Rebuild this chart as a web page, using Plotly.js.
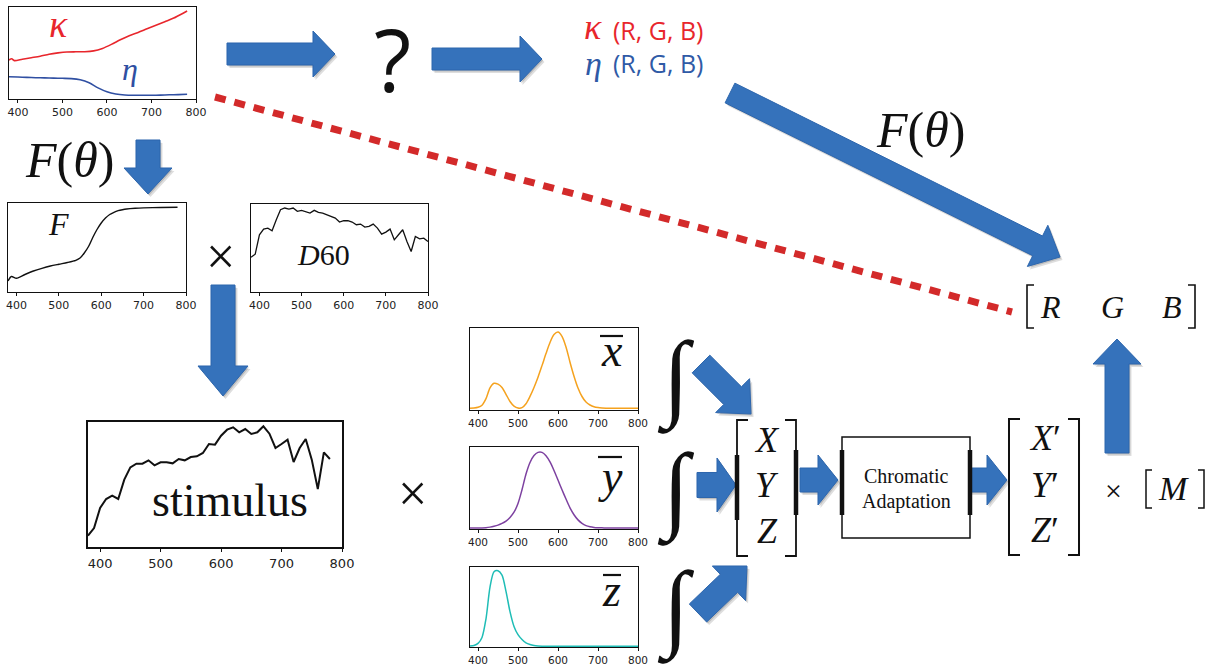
<!DOCTYPE html>
<html><head><meta charset="utf-8">
<script src="https://cdn.plot.ly/plotly-3.0.1.min.js"></script>
<style>body{margin:0;background:#fff}#chart{width:1215px;height:671px}</style>
</head><body><div id="chart"></div>
<script>
// ---------------- data ----------------
const tickWl = [400, 500, 600, 700, 800];

const kappaWl = [380,386,392,410,430,450,470,490,510,530,550,570,590,610,630,650,670,690,710,730,750,770,780];
const kappa   = [39,40.3,38.4,39.8,41.3,42.8,44.8,46.1,47,47.2,47.3,48.1,50.6,54.6,59.2,63.3,66.6,70.2,73.7,77.3,80.9,85.5,88];

const etaWl = [380,400,420,440,460,480,500,520,540,560,580,600,620,640,660,680,700,720,740,760,780];
const eta   = [22.3,22,21.6,21.3,21.1,20.9,20.7,20.4,19.2,16.2,11.1,7.2,5,4,3.7,3.7,3.7,3.9,4.2,4.4,4.7];

const fresWl = [380,388,400,420,440,460,480,500,520,540,550,560,570,580,590,600,610,620,630,640,650,660,680,700,740,780];
const fresnel = [11,15.5,13.7,17.5,21,23.7,26,27.8,29.5,31.7,34,39,45.5,54.5,62.5,69,74,77.5,79.7,81.3,82.3,83,83.7,84.1,84.5,84.7];

const d60Wl = [380,390,400,410,420,430,440,450,460,470,480,490,500,510,520,530,540,550,560,570,580,590,600,610,620,630,640,650,660,670,680,690,700,710,720,730,740,750,760,770,780,790,800];
const d60 = [104,113,171,188,191,183,216,246,251,248,251,241,244,241,236,244,238,236,231,224,221,209,213,213,209,201,203,194,196,203,191,173,179,188,156,171,186,151,121,166,159,161,151];

const stimWl = [380,390,400,410,420,430,440,450,460,470,480,490,500,510,520,530,540,550,560,570,580,590,600,610,620,630,640,650,660,670,680,690,700,710,720,730,740,750,760,770,780];
const stimulus = [34,57,117,144,154,144,202,239,250,250,260,245,254,254,251,264,260,270,272,282,309,307,334,352,359,344,354,339,344,362,340,297,309,322,255,297,324,262,174,284,264];

const cmfWl = [380,390,400,410,420,430,440,450,460,470,480,490,500,510,520,530,540,550,560,570,580,590,600,610,620,630,640,650,660,670,680,690,700,710,720,730,740,750,760,770,780,790,800];
const xBar = [0.0014,0.0042,0.0143,0.0435,0.1344,0.2839,0.3483,0.3362,0.2908,0.1954,0.0956,0.0320,0.0049,0.0093,0.0633,0.1655,0.2904,0.4334,0.5945,0.7621,0.9163,1.0263,1.0622,1.0026,0.8545,0.6424,0.4479,0.2835,0.1649,0.0874,0.0468,0.0227,0.0114,0.0058,0.0029,0.0014,0.0007,0.0003,0.0002,0.0001,0,0,0];
const yBar = [0,0.0001,0.0004,0.0012,0.004,0.0116,0.023,0.038,0.06,0.091,0.139,0.208,0.323,0.503,0.71,0.862,0.954,0.995,0.995,0.952,0.87,0.757,0.631,0.503,0.381,0.265,0.175,0.107,0.061,0.032,0.017,0.0082,0.0041,0.0021,0.001,0.0005,0.0002,0.0001,0.0001,0,0,0,0];
const zBar = [0.0065,0.0201,0.0679,0.2074,0.6456,1.3856,1.7471,1.7721,1.6692,1.2876,0.8130,0.4652,0.2720,0.1582,0.0783,0.0422,0.0203,0.0088,0.0039,0.0021,0.0017,0.0011,0.0008,0.0003,0.0002,0,0,0,0,0,0,0,0,0,0,0,0,0,0,0,0,0,0];

// ---------------- helpers ----------------
const W = 1215, H = 671;
const fx = v => v / W, fy = v => 1 - v / H;
const SERIF = 'Liberation Serif';
const SANS = 'Open Sans';
const TICKF = 'DejaVu Sans';
const INTF = 'DejaVu Sans ExtraLight, Liberation Serif';

const layout = {
  width: W, height: H, margin: {l: 0, r: 0, t: 0, b: 0},
  paper_bgcolor: '#fff', plot_bgcolor: '#fff', showlegend: false,
  shapes: [], annotations: []
};
const traces = [];

function panel(n, x0, x1, y0, y1, yr, tickSize, lw) {
  const sfx = n === 1 ? '' : String(n);
  layout['xaxis' + sfx] = {
    domain: [fx(x0), fx(x1)], range: [380, 800], anchor: 'y' + sfx,
    showgrid: false, zeroline: false, showline: true, mirror: true,
    linecolor: '#111', linewidth: lw, ticks: 'outside', ticklen: 3, tickwidth: 1, tickcolor: '#111',
    tickvals: tickWl, ticktext: tickWl.map(String),
    tickfont: {family: TICKF, size: tickSize, color: '#222'}, fixedrange: true
  };
  layout['yaxis' + sfx] = {
    domain: [fy(y1), fy(y0)], range: yr, anchor: 'x' + sfx,
    showgrid: false, zeroline: false, showline: true, mirror: true,
    linecolor: '#111', linewidth: lw, ticks: '', showticklabels: false, fixedrange: true
  };
  return sfx;
}
function line(sfx, x, y, color, width, shape) {
  traces.push({x: x, y: y, xaxis: 'x' + sfx, yaxis: 'y' + sfx, type: 'scatter', mode: 'lines',
    line: {color: color, width: width, shape: shape || 'spline', smoothing: 0.8}, hoverinfo: 'skip'});
}
function ann(text, x, y, size, color, family, extra) {
  layout.annotations.push(Object.assign({
    text: text, x: fx(x), y: fy(y), xref: 'paper', yref: 'paper', showarrow: false,
    xanchor: 'center', yanchor: 'middle',
    font: {size: size, color: color || '#111', family: family || SERIF}
  }, extra || {}));
}
function pathStr(pts) {
  return 'M' + pts.map(q => fx(q[0]).toFixed(5) + ',' + fy(q[1]).toFixed(5)).join('L');
}
function arrow(t, p, bw, hl, hw) {
  const dx = p[0] - t[0], dy = p[1] - t[1], L = Math.hypot(dx, dy);
  const ux = dx / L, uy = dy / L, nx = -uy, ny = ux;
  const bx = p[0] - ux * hl, by = p[1] - uy * hl;
  const pts = [[t[0] + nx * bw, t[1] + ny * bw], [bx + nx * bw, by + ny * bw], [bx + nx * hw, by + ny * hw],
    [p[0], p[1]], [bx - nx * hw, by - ny * hw], [bx - nx * bw, by - ny * bw], [t[0] - nx * bw, t[1] - ny * bw]];
  const sh = pts.map(q => [q[0] + 2.5, q[1] + 3]);
  const sh2 = pts.map(q => [q[0] + 1.2, q[1] + 1.5]);
  layout.shapes.push({type: 'path', xref: 'paper', yref: 'paper', path: pathStr(sh) + 'Z',
    fillcolor: 'rgba(0,0,0,0.13)', line: {width: 0}});
  layout.shapes.push({type: 'path', xref: 'paper', yref: 'paper', path: pathStr(sh2) + 'Z',
    fillcolor: 'rgba(0,0,0,0.15)', line: {width: 0}});
  layout.shapes.push({type: 'path', xref: 'paper', yref: 'paper', path: pathStr(pts) + 'Z',
    fillcolor: '#3572bb', line: {color: '#2d66ad', width: 1}});
}
function seg(x0, y0, x1, y1, w, color, dash) {
  layout.shapes.push({type: 'line', xref: 'paper', yref: 'paper', x0: fx(x0), y0: fy(y0), x1: fx(x1), y1: fy(y1),
    line: {color: color || '#111', width: w, dash: dash || 'solid'}});
}
function bracket(x, top, bottom, arm, w) {
  layout.shapes.push({type: 'path', xref: 'paper', yref: 'paper',
    path: pathStr([[x + arm, top], [x, top], [x, bottom], [x + arm, bottom]]),
    line: {color: '#111', width: w}});
}

// ---------------- panels ----------------
let s;
s = panel(1, 9, 196, 7, 99, [0, 92], 11, 1);
line(s, kappaWl, kappa, '#e8262c', 1.6);
line(s, etaWl, eta, '#2f4fa2', 1.6);

s = panel(2, 8, 186, 203, 292, [0, 89], 11, 1);
line(s, fresWl, fresnel, '#111', 1.4);

s = panel(3, 251, 428, 204, 292, [0, 263], 11, 1);
line(s, d60Wl, d60, '#111', 1.3, 'linear');

s = panel(4, 88, 342, 422, 547, [0, 375], 13, 2);
line(s, stimWl, stimulus, '#111', 2, 'linear');

s = panel(5, 470, 638, 328, 410, [-0.023, 1.118], 10.5, 1);
line(s, cmfWl, xBar, '#f5a21e', 1.5);
s = panel(6, 470, 638, 447, 529, [-0.013, 1.066], 10.5, 1);
line(s, cmfWl, yBar, '#7d41a0', 1.5);
s = panel(7, 470, 638, 567, 647, [-0.016, 1.858], 10.5, 1);
line(s, cmfWl, zBar, '#1fbdb6', 1.5);

// ---------------- decorations ----------------
seg(215, 97, 1012, 312, 7, '#d32a2a', '11px,9px');

arrow([227, 54], [335, 54], 11, 22, 23);
arrow([432, 59], [542, 59], 11, 22, 23);
arrow([730, 93], [1060, 257], 11, 25, 23);
arrow([148, 140], [148, 194], 12, 26, 24);
arrow([223, 285], [223, 396], 12, 30, 25);
arrow([701, 364], [751, 414], 12.5, 26, 24);
arrow([697, 485], [736, 485], 12.5, 19, 27);
arrow([698, 613], [747, 566], 12.5, 25, 24);
arrow([800, 480], [838, 480], 12, 20, 25);
arrow([969, 480], [1007, 480], 12, 20, 25);
arrow([1117, 453], [1117, 339], 12, 25, 24);

bracket(737, 420, 556, 11, 1.8); seg(737, 455, 737, 520, 4.5);
bracket(796, 420, 556, -11, 1.8); seg(796, 450, 796, 515, 4.5);
bracket(1009, 419, 555, 11, 2);
bracket(1079, 419, 555, -11, 2);
bracket(1027, 285, 328, 7, 1.6);
bracket(1195, 285, 328, -7, 1.6);
bracket(1146, 470, 508, 6, 1.5);
bracket(1204, 470, 508, -6, 1.5);

layout.shapes.push({type: 'rect', xref: 'paper', yref: 'paper', x0: fx(842), x1: fx(970), y0: fy(538), y1: fy(437),
  line: {color: '#111', width: 1.5}, fillcolor: 'rgba(0,0,0,0)'});
seg(842, 450, 842, 515, 4.5);
seg(970, 450, 970, 515, 4.5);

seg(600, 336, 623, 336, 2.2);
seg(598, 457, 622, 457, 2.2);
seg(603, 575, 621, 575, 2.2);

// ---------------- texts ----------------
ann('<i>κ</i>', 58, 24, 38, '#e8262c');
ann('<i>η</i>', 130, 69, 32, '#2f4fa2');
ann('?', 392, 58, 86, '#111', SANS);
ann('<i>κ</i>', 593, 27, 36, '#e8262c');
ann('(R, G, B)', 658, 30, 25, '#e8262c', SANS);
ann('<i>η</i>', 593, 64, 34, '#2f5aa6');
ann('(R, G, B)', 658, 63, 25, '#2f5aa6', SANS);
ann('<i>F</i>(<i>θ</i>)', 69, 160, 50);
ann('<i>F</i>(<i>θ</i>)', 920, 130, 50);
ann('<i>F</i>', 59, 224, 32);
ann('<i>D</i>60', 323, 254, 30);
ann('×', 221, 256, 52, '#111');
ann('×', 412, 493, 52, '#111');
ann('×', 1113, 490, 30, '#111');
ann('stimulus', 230, 500, 46);
ann('<i>x</i>', 612, 350, 46);
ann('<i>y</i>', 610, 476, 46);
ann('<i>z</i>', 612, 590, 46);
ann('∫', 676, 378, 96, '#111', INTF);
ann('∫', 676, 490, 96, '#111', INTF);
ann('∫', 676, 608, 96, '#111', INTF);
ann('<i>X</i>', 767, 440, 36);
ann('<i>Y</i>', 767, 485, 36);
ann('<i>Z</i>', 767, 531, 36);
ann('<i>X</i>′', 1045, 438, 36);
ann('<i>Y</i>′', 1045, 485, 36);
ann('<i>Z</i>′', 1045, 530, 36);
ann('Chromatic', 906, 476, 20);
ann('Adaptation', 906, 502, 20);
ann('<i>R</i>', 1050, 307, 32);
ann('<i>G</i>', 1112, 307, 32);
ann('<i>B</i>', 1172, 307, 32);
ann('<i>M</i>', 1173, 488, 34);

Plotly.newPlot('chart', traces, layout, {displayModeBar: false, staticPlot: true});
</script></body></html>
